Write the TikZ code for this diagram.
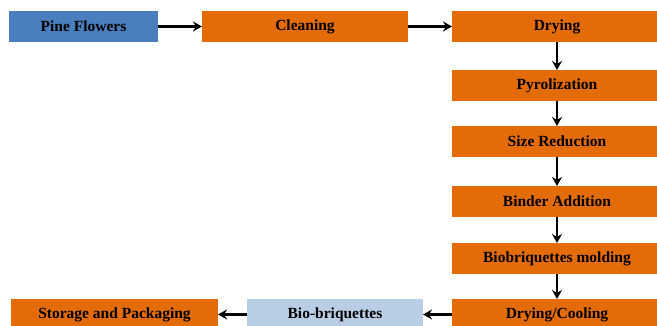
\documentclass[tikz,border=0pt]{standalone}
\usepackage{fontspec}
\setmainfont{Liberation Serif}
\usepackage{tikz}
\usetikzlibrary{positioning}
\usetikzlibrary{arrows.meta}
\definecolor{procorange}{HTML}{E36C09}
\definecolor{rawblue}{HTML}{4A7EBE}
\definecolor{prodblue}{HTML}{B9CDE5}
\tikzset{proc node/.style={rectangle,fill=procorange,draw=none,minimum height=31pt,inner sep=0pt,outer sep=0pt,font=\bfseries\fontsize{15.5}{18}\selectfont},
         raw node/.style={proc node,fill=rawblue},
         prod node/.style={proc node,fill=prodblue},}

\begin{document}
\begin{tikzpicture}[-{Stealth[length=9pt,width=10pt]}, x=1pt, y=1pt, line width=2.6pt]
    \useasboundingbox (0,0) rectangle (657,326);
    \clip (0,0) rectangle (657,326);
		\node[raw node, minimum width=149pt] (pine) at (83.5,299.5) {Pine Flowers};
	    \node[proc node, minimum width=206pt] (clean) [right = 44pt of pine] {Cleaning};
	    \node[proc node, minimum width=210pt] (dry) [right = 44pt of clean] {Drying};
	    \node[proc node, minimum width=210pt] (pyro) [below = 28pt of dry] {Pyrolization};
	    \node[proc node, minimum width=210pt] (size) [below = 25pt of pyro] {Size Reduction};
	    \node[proc node, minimum width=210pt] (binder) [below = 29pt of size] {Binder Addition};
	    \node[proc node, minimum width=210pt] (mold) [below = 26pt of binder] {Biobriquettes molding};
	    \node[proc node, minimum width=210pt] (cool) [below = 25pt of mold] {Drying/Cooling};
	    \node[prod node, minimum width=176pt] (bio) [left = 29pt of cool] {Bio-briquettes};
	    \node[proc node, minimum width=207pt] (store) [left = 29pt of bio] {Storage and Packaging};

	    \path[draw]
	    (pine) edge (clean)
	    (clean) edge (dry)
	    (dry) edge (pyro)
	    (pyro) edge (size)
	    (size) edge (binder)
	    (binder) edge (mold)
	    (mold) edge (cool)
	    (cool) edge (bio)
	    (bio) edge (store);
	\end{tikzpicture}
\end{document}
